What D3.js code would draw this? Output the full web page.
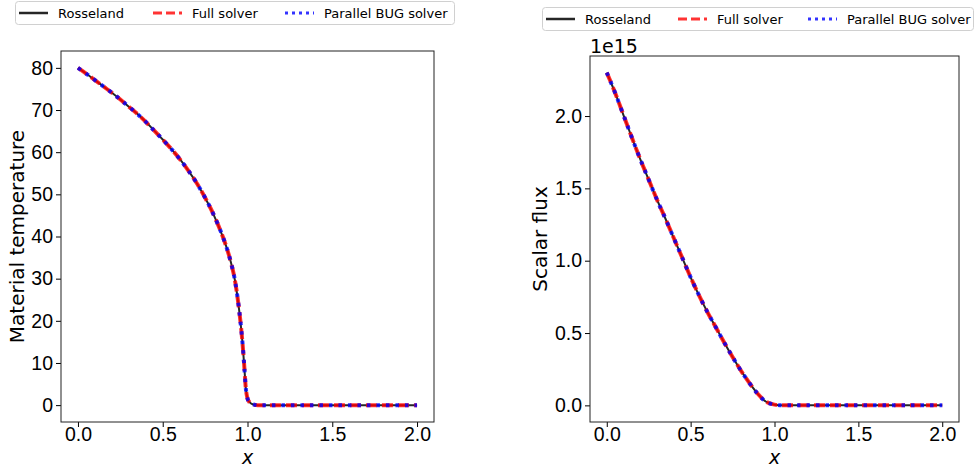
<!DOCTYPE html>
<html>
<head>
<meta charset="utf-8">
<script src="https://cdn.jsdelivr.net/npm/d3@7"></script>
<style>
  body { margin: 0; background: #fff; }
  svg { display: block; font-family: "DejaVu Sans", sans-serif; }
</style>
</head>
<body>
<svg id="chart" width="974" height="471"></svg>
<script>
// series names shown in the legends
const seriesNames = ['Rosseland', 'Full solver', 'Parallel BUG solver'];

// material temperature
const tempX = [0, 0.05, 0.1, 0.15, 0.2, 0.25, 0.3, 0.35, 0.4, 0.45, 0.5, 0.55, 0.6, 0.65, 0.7, 0.75,
    0.8, 0.85, 0.875, 0.9, 0.925, 0.95, 0.97, 0.98, 0.99, 1.0, 1.01, 1.03, 1.06, 1.1,
    1.2, 1.3, 1.4, 1.5, 1.6, 1.7, 1.8, 1.9, 2.0];
const tempRosseland = [80, 78.6, 77.1, 75.6, 74.1, 72.5, 70.8, 69.1, 67.2, 65.1, 63.0, 60.8, 58.4, 55.7, 52.7, 49.2,
    45.2, 40.4, 37.6, 34.2, 29.8, 22.8, 15.0, 9.8, 4.0, 1.6, 0.8, 0.2, 0, 0,
    0, 0, 0, 0, 0, 0, 0, 0, 0];
const tempFull = [80, 78.6, 77.1, 75.6, 74.1, 72.5, 70.8, 69.1, 67.2, 65.1, 63.0, 60.8, 58.4, 55.7, 52.7, 49.2,
    45.2, 40.4, 37.6, 34.2, 29.8, 22.8, 15.0, 9.8, 4.0, 1.6, 0.8, 0.2, 0, 0,
    0, 0, 0, 0, 0, 0, 0, 0, 0];
const tempBUG = [80, 78.6, 77.1, 75.6, 74.1, 72.5, 70.8, 69.1, 67.2, 65.1, 63.0, 60.8, 58.4, 55.7, 52.7, 49.2,
    45.2, 40.4, 37.6, 34.2, 29.8, 22.8, 15.0, 9.8, 4.0, 1.6, 0.8, 0.2, 0, 0,
    0, 0, 0, 0, 0, 0, 0, 0, 0];
const tempTicks = [0, 10, 20, 30, 40, 50, 60, 70, 80];

// scalar flux (units of 1e15)
const fluxX = [0, 0.05, 0.1, 0.15, 0.2, 0.25, 0.3, 0.35, 0.4, 0.45, 0.5, 0.55, 0.6, 0.65, 0.7, 0.75,
    0.8, 0.85, 0.9, 0.95, 1.0, 1.05, 1.1, 1.2, 1.3, 1.4, 1.5, 1.6, 1.7, 1.8, 1.9, 2.0];
const fluxRosseland = [2.30, 2.16, 2.005, 1.85, 1.70, 1.56, 1.42, 1.29, 1.155, 1.02, 0.885, 0.76, 0.645, 0.54, 0.435, 0.335,
    0.24, 0.155, 0.08, 0.025, 0.005, 0, 0, 0, 0, 0, 0, 0, 0, 0, 0, 0];
const fluxFull = [2.30, 2.16, 2.005, 1.85, 1.70, 1.56, 1.42, 1.29, 1.155, 1.02, 0.885, 0.76, 0.645, 0.54, 0.435, 0.335,
    0.24, 0.155, 0.08, 0.025, 0.005, 0, 0, 0, 0, 0, 0, 0, 0, 0, 0, 0];
const fluxBUG = [2.30, 2.16, 2.005, 1.85, 1.70, 1.56, 1.42, 1.29, 1.155, 1.02, 0.885, 0.76, 0.645, 0.54, 0.435, 0.335,
    0.24, 0.155, 0.08, 0.025, 0.005, 0, 0, 0, 0, 0, 0, 0, 0, 0, 0, 0];
const fluxTicks = [0, 0.5, 1.0, 1.5, 2.0];

const xTicks = [0, 0.5, 1.0, 1.5, 2.0];

const styles = [
    {color: '#000', width: 2, dash: null, opacity: 0.85},
    {color: '#ff0000', width: 4, dash: '11,5', opacity: 0.8},
    {color: '#0000ff', width: 4, dash: '3.5,6', opacity: 0.8}
];

const svg = d3.select('#chart');

const drawPanel = (cfg) => {
    const {left, right, top, bottom} = cfg.box;

    const xScale = d3.scaleLinear()
        .domain([-0.1, 2.1])
        .range([left, right]);

    const yScale = d3.scaleLinear()
        .domain(cfg.yDomain)
        .range([bottom, top]);

    const g = svg.append('g');

    // x axis
    g.append('g')
        .attr('transform', `translate(0, ${bottom})`)
        .call(d3.axisBottom(xScale).tickValues(xTicks).tickFormat(d3.format('.1f')).tickSize(5).tickPadding(0))
        .call(a => a.select('.domain').remove())
        .selectAll('text')
        .attr('font-size', 19.5)
        .attr('fill', '#000');

    // y axis
    g.append('g')
        .attr('transform', `translate(${left}, 0)`)
        .call(d3.axisLeft(yScale).tickValues(cfg.yTicks).tickFormat(cfg.yFormat).tickSize(5).tickPadding(3))
        .call(a => a.select('.domain').remove())
        .selectAll('text')
        .attr('font-size', 19.5)
        .attr('fill', '#000');

    g.selectAll('.tick line').attr('stroke', '#000').attr('stroke-width', 1);

    // curves
    const line = d3.line()
        .curve(d3.curveMonotoneX)
        .x(d => xScale(d[0]))
        .y(d => yScale(d[1]));

    cfg.series.forEach((ys, i) => {
        const pts = cfg.xs.map((x, j) => [x, ys[j]]);
        g.append('path')
            .datum(pts)
            .attr('fill', 'none')
            .attr('stroke', styles[i].color)
            .attr('stroke-opacity', styles[i].opacity)
            .attr('stroke-width', styles[i].width)
            .attr('stroke-dasharray', styles[i].dash)
            .attr('stroke-linejoin', 'round')
            .attr('d', line);
    });

    // frame
    g.append('rect')
        .attr('x', left)
        .attr('y', top)
        .attr('width', right - left)
        .attr('height', bottom - top)
        .attr('fill', 'none')
        .attr('stroke', '#222')
        .attr('stroke-width', 1);

    // axis labels
    g.append('text')
        .attr('x', (left + right) / 2)
        .attr('y', bottom + 41.5)
        .attr('text-anchor', 'middle')
        .attr('font-size', 19)
        .attr('font-style', 'italic')
        .text('x');

    g.append('text')
        .attr('transform', `translate(${cfg.yLabelX}, ${(top + bottom) / 2}) rotate(-90)`)
        .attr('text-anchor', 'middle')
        .attr('font-size', 20)
        .text(cfg.yLabel);

    if (cfg.offsetText) {
        g.append('text')
            .attr('x', left)
            .attr('y', top - 3)
            .attr('font-size', 19)
            .text(cfg.offsetText);
    }

    // legend
    const lg = svg.append('g').attr('transform', `translate(${cfg.legend.x}, ${cfg.legend.y})`);
    lg.append('rect')
        .attr('x', 0.5)
        .attr('y', 0.5)
        .attr('width', cfg.legend.w)
        .attr('height', 23)
        .attr('rx', 3)
        .attr('fill', '#fff')
        .attr('fill-opacity', 0.8)
        .attr('stroke', '#d0d0d0');

    const offsets = cfg.legend.items;
    seriesNames.forEach((name, i) => {
        const ox = offsets[i];
        lg.append('line')
            .attr('x1', ox)
            .attr('x2', ox + 29)
            .attr('y1', 12)
            .attr('y2', 12)
            .attr('stroke', styles[i].color)
            .attr('stroke-opacity', styles[i].opacity)
            .attr('stroke-width', i === 0 ? 2.5 : 3)
            .attr('stroke-dasharray', i === 1 ? '9,4' : (i === 2 ? '3,4' : null));
        lg.append('text')
            .attr('x', ox + 39)
            .attr('y', 16.5)
            .attr('font-size', 13)
            .text(name);
    });
};

drawPanel({
    box: {left: 61, right: 434, top: 51, bottom: 422},
    yDomain: [-4, 84],
    yTicks: tempTicks,
    yFormat: d3.format('d'),
    xs: tempX,
    series: [tempRosseland, tempFull, tempBUG],
    yLabel: 'Material temperature',
    yLabelX: 24,
    legend: {x: 15, y: 1, w: 439, items: [4, 138, 270]}
});

drawPanel({
    box: {left: 590, right: 959, top: 56, bottom: 422},
    yDomain: [-0.115, 2.415],
    yTicks: fluxTicks,
    yFormat: d3.format('.1f'),
    xs: fluxX,
    series: [fluxRosseland, fluxFull, fluxBUG],
    yLabel: 'Scalar flux',
    yLabelX: 547,
    offsetText: '1e15',
    legend: {x: 542, y: 7, w: 431, items: [4, 136, 266]}
});
</script>
</body>
</html>
